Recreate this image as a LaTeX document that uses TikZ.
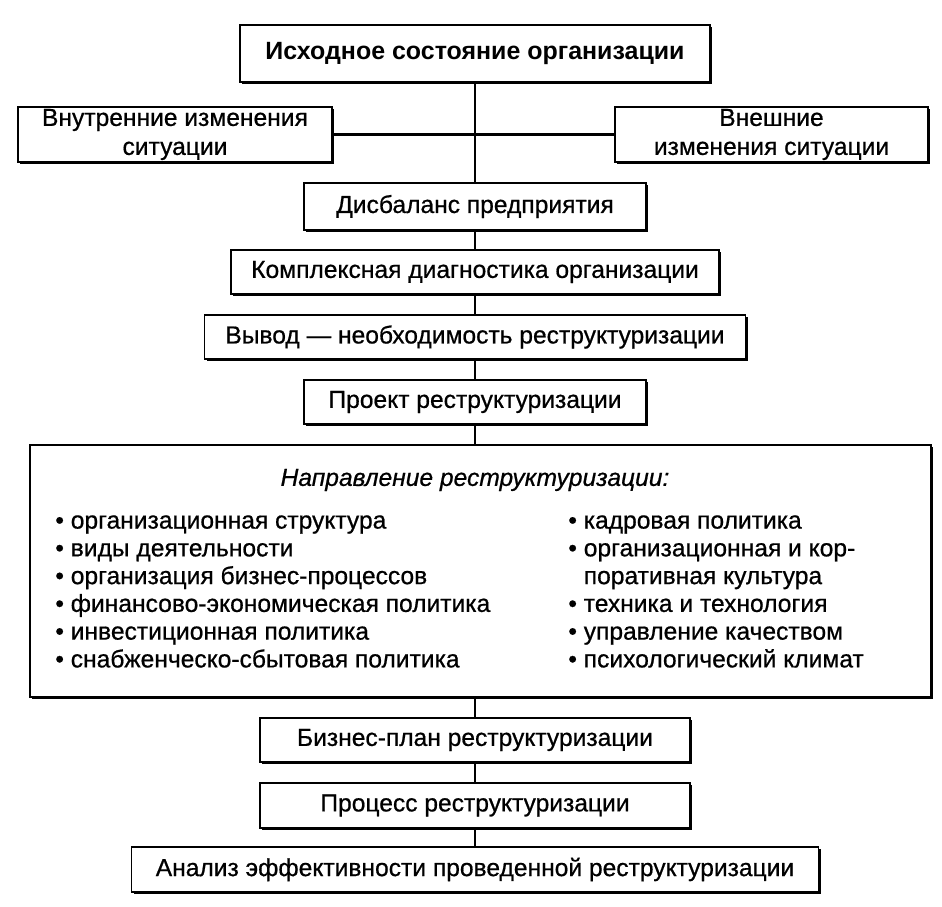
\documentclass[tikz,border=0pt]{standalone}
\usepackage{fontspec}
\setmainfont{Liberation Sans}[UprightFeatures={FakeBold=0.7}, ItalicFeatures={FakeBold=0.7}]
\usetikzlibrary{shadows}

\begin{document}
\begin{tikzpicture}
\tikzset{box/.style={draw, line width=1.1pt, fill=white, align=center, inner sep=0pt,
        font=\fontsize{14}{16.5}\selectfont,
        drop shadow={shadow xshift=1.2pt, shadow yshift=-1.2pt, fill=black, opacity=1}},
        item/.style={align=left, anchor=west, inner sep=0pt, font=\fontsize{14}{15.8}\selectfont}}
        \useasboundingbox (0, 0) rectangle (18.84, -18.14);

        \node[box, minimum width=9.4cm, minimum height=1.14cm, font=\fontsize{14.2}{16.5}\selectfont\bfseries] (top) at (9.5, -1.07) {Исходное состояние организации};
        \node[box, minimum width=6.28cm, minimum height=1.1cm] (inner) at (3.5, -2.69) {Внутренние изменения\\ситуации};
        \node[box, minimum width=6.26cm, minimum height=1.1cm] (outer) at (15.43, -2.69) {Внешние\\изменения ситуации};
        \node[box, minimum width=6.84cm, minimum height=0.94cm] (imbal) at (9.5, -4.13) {Дисбаланс предприятия};
        \node[box, minimum width=9.76cm, minimum height=0.88cm] (diag) at (9.5, -5.44) {Комплексная диагностика организации};
        \node[box, minimum width=10.82cm, minimum height=0.88cm] (concl) at (9.5, -6.74) {Вывод --- необходимость реструктуризации};
        \node[box, minimum width=6.84cm, minimum height=0.88cm] (proj) at (9.5, -8.04) {Проект реструктуризации};
        \node[box, minimum width=18.02cm, minimum height=5.04cm] (dir) at (9.61, -11.42) {};
        \node[box, minimum width=8.6cm, minimum height=0.88cm] (bplan) at (9.5, -14.8) {Бизнес-план реструктуризации};
        \node[box, minimum width=8.6cm, minimum height=0.9cm] (proc) at (9.5, -16.11) {Процесс реструктуризации};
        \node[box, minimum width=13.74cm, minimum height=0.9cm] (eff) at (9.5, -17.39) {Анализ эффективности проведенной реструктуризации};

        \node[inner sep=0pt, font=\fontsize{14}{16}\selectfont\itshape] (dirtitle) at (9.5, -9.6) {Направление реструктуризации:};
        \node[item] (listl) at (1.1, -11.83) {• организационная структура\\• виды деятельности\\• организация бизнес-процессов\\• финансово-экономическая политика\\• инвестиционная политика\\• снабженческо-сбытовая политика};
        \node[item] (listr) at (11.36, -11.83) {• кадровая политика\\• организационная и кор-\\\phantom{• }поративная культура\\• техника и технология\\• управление качеством\\• психологический климат};

        \draw[line width=1.2pt] (top) -- (imbal);
        \draw[line width=1.2pt] (inner) -- (outer);
        \draw[line width=1.2pt] (imbal) -- (diag);
        \draw[line width=1.2pt] (diag) -- (concl);
        \draw[line width=1.2pt] (concl) -- (proj);
        \draw[line width=1.2pt] (proj) -- (dir.north -| proj);
        \draw[line width=1.2pt] (dir.south -| bplan) -- (bplan);
        \draw[line width=1.2pt] (bplan) -- (proc);
        \draw[line width=1.2pt] (proc) -- (eff);
\end{tikzpicture}
\end{document}
